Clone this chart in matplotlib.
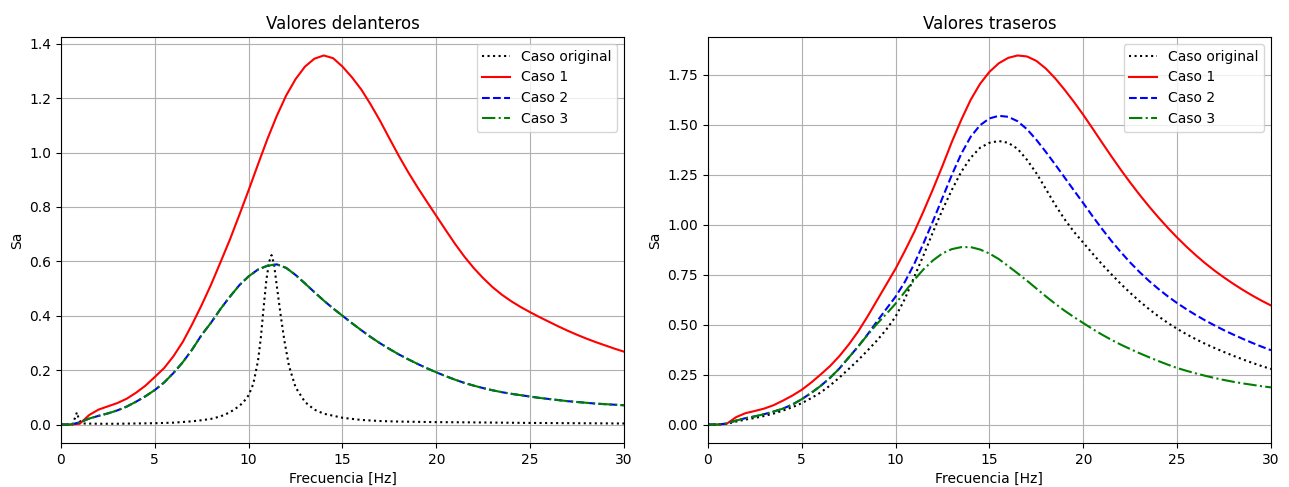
import matplotlib
matplotlib.use("Agg")
import matplotlib.pyplot as plt

# frecuencias comunes (Hz)
freq = [0, 0.5, 1, 1.5, 2, 2.5, 3, 3.5, 4, 4.5,
        5, 5.5, 6, 6.5, 7, 7.5, 8, 8.5, 9, 9.5,
        10, 10.5, 11, 11.5, 12, 12.5, 13, 13.5, 14, 14.5,
        15, 15.5, 16, 16.5, 17, 17.5, 18, 18.5, 19, 19.5,
        20, 20.5, 21, 21.5, 22, 22.5, 23, 23.5, 24, 24.5,
        25, 25.5, 26, 26.5, 27, 27.5, 28, 28.5, 29, 29.5,
        30]

# ---- valores delanteros ----
freq_orig_del = [0, 0.6, 0.75, 0.85, 0.95, 1.1, 2, 3, 4, 5, 6, 7, 7.5, 8, 8.5, 9,
                 9.5, 9.75, 10, 10.25, 10.5, 10.65, 10.8, 10.95, 11.1, 11.22,
                 11.35, 11.5, 11.7, 11.9, 12.15, 12.5, 13, 13.5, 14, 15, 16, 17,
                 18, 20, 22, 25, 30]
orig_del = [0, 0, 0.025, 0.045, 0.02, 0.004, 0.003, 0.003, 0.004, 0.005, 0.007,
            0.012, 0.016, 0.021, 0.03, 0.045, 0.068, 0.085, 0.108, 0.15, 0.235,
            0.32, 0.432, 0.535, 0.6, 0.623, 0.59, 0.51, 0.405, 0.31, 0.215,
            0.137, 0.083, 0.055, 0.04, 0.025, 0.017, 0.013, 0.011, 0.009,
            0.008, 0.006, 0.004]

caso1_del = [0, 0, 0.003, 0.035, 0.055, 0.067, 0.079, 0.095, 0.117, 0.143,
             0.175, 0.208, 0.252, 0.305, 0.37, 0.44, 0.515, 0.597, 0.68, 0.77,
             0.862, 0.957, 1.05, 1.135, 1.21, 1.27, 1.316, 1.345, 1.357, 1.347,
             1.316, 1.277, 1.232, 1.177, 1.117, 1.052, 0.988, 0.928, 0.872, 0.819,
             0.767, 0.715, 0.664, 0.617, 0.575, 0.538, 0.505, 0.477, 0.453, 0.432,
             0.413, 0.395, 0.378, 0.361, 0.345, 0.33, 0.316, 0.303, 0.291, 0.279,
             0.268]

caso2_del = [0, 0, 0.008, 0.022, 0.032, 0.041, 0.052, 0.066, 0.084, 0.104,
             0.127, 0.155, 0.19, 0.23, 0.277, 0.33, 0.375, 0.425, 0.47, 0.512,
             0.545, 0.57, 0.584, 0.589, 0.576, 0.55, 0.519, 0.487, 0.456, 0.427,
             0.4, 0.373, 0.347, 0.322, 0.299, 0.278, 0.258, 0.24, 0.223, 0.207,
             0.192, 0.178, 0.165, 0.153, 0.143, 0.134, 0.126, 0.119, 0.113, 0.108,
             0.103, 0.098, 0.094, 0.09, 0.086, 0.083, 0.08, 0.077, 0.075, 0.073,
             0.071]

caso3_del = [0, 0, 0.008, 0.022, 0.032, 0.041, 0.052, 0.066, 0.084, 0.104,
             0.127, 0.155, 0.19, 0.23, 0.277, 0.33, 0.375, 0.425, 0.47, 0.512,
             0.545, 0.57, 0.584, 0.589, 0.576, 0.55, 0.519, 0.487, 0.456, 0.427,
             0.4, 0.373, 0.347, 0.322, 0.299, 0.278, 0.258, 0.24, 0.223, 0.207,
             0.192, 0.178, 0.165, 0.153, 0.143, 0.134, 0.126, 0.119, 0.113, 0.108,
             0.103, 0.098, 0.094, 0.09, 0.086, 0.083, 0.08, 0.077, 0.075, 0.073,
             0.071]

# ---- valores traseros ----
orig_tra = [0, 0, 0.003, 0.015, 0.025, 0.033, 0.043, 0.055, 0.07, 0.087,
            0.107, 0.132, 0.16, 0.195, 0.235, 0.278, 0.322, 0.37, 0.42, 0.475,
            0.54, 0.63, 0.74, 0.85, 0.965, 1.075, 1.175, 1.265, 1.335, 1.385,
            1.41, 1.419, 1.41, 1.38, 1.325, 1.258, 1.18, 1.1, 1.028, 0.965,
            0.91, 0.855, 0.802, 0.752, 0.704, 0.659, 0.617, 0.578, 0.542, 0.509,
            0.479, 0.452, 0.427, 0.404, 0.383, 0.363, 0.344, 0.326, 0.309, 0.293,
            0.278]

caso1_tra = [0, 0, 0.004, 0.037, 0.057, 0.068, 0.08, 0.097, 0.12, 0.145,
             0.174, 0.21, 0.25, 0.292, 0.342, 0.4, 0.465, 0.54, 0.62, 0.7,
             0.78, 0.87, 0.965, 1.07, 1.18, 1.295, 1.415, 1.525, 1.625, 1.705,
             1.765, 1.808, 1.835, 1.847, 1.842, 1.82, 1.782, 1.733, 1.676, 1.615,
             1.55, 1.481, 1.411, 1.342, 1.275, 1.211, 1.15, 1.092, 1.037, 0.985,
             0.936, 0.89, 0.847, 0.807, 0.77, 0.736, 0.704, 0.674, 0.646, 0.62,
             0.596]

caso2_tra = [0, 0, 0.005, 0.02, 0.032, 0.041, 0.052, 0.065, 0.08, 0.1,
             0.127, 0.158, 0.193, 0.233, 0.28, 0.335, 0.39, 0.45, 0.515, 0.578,
             0.64, 0.715, 0.805, 0.91, 1.02, 1.135, 1.25, 1.355, 1.44, 1.498,
             1.532, 1.545, 1.54, 1.518, 1.478, 1.425, 1.365, 1.302, 1.237, 1.172,
             1.108, 1.042, 0.979, 0.919, 0.863, 0.811, 0.763, 0.719, 0.679, 0.642,
             0.608, 0.577, 0.548, 0.521, 0.496, 0.472, 0.45, 0.429, 0.409, 0.39,
             0.372]

caso3_tra = [0, 0, 0.005, 0.02, 0.032, 0.041, 0.052, 0.065, 0.08, 0.1,
             0.127, 0.158, 0.193, 0.233, 0.28, 0.335, 0.39, 0.448, 0.503, 0.553,
             0.605, 0.665, 0.725, 0.778, 0.822, 0.857, 0.878, 0.888, 0.888, 0.876,
             0.856, 0.828, 0.793, 0.757, 0.72, 0.681, 0.642, 0.605, 0.57, 0.538,
             0.508, 0.478, 0.45, 0.424, 0.4, 0.378, 0.357, 0.337, 0.318, 0.3,
             0.283, 0.269, 0.256, 0.244, 0.233, 0.223, 0.214, 0.206, 0.199, 0.192,
             0.186]

labels = ["Caso original", "Caso 1", "Caso 2", "Caso 3"]

fig, (ax1, ax2) = plt.subplots(1, 2, figsize=(12.89, 4.87), dpi=100)
fig.subplots_adjust(left=0.0473, right=0.986, bottom=0.0903, top=0.924, wspace=0.149)

# delanteros
ax1.plot(freq_orig_del, orig_del, "k:", label=labels[0])
ax1.plot(freq, caso1_del, "r-", label=labels[1])
ax1.plot(freq, caso2_del, "b--", label=labels[2])
ax1.plot(freq, caso3_del, "g-.", label=labels[3])
ax1.set_title("Valores delanteros")
ax1.set_xlabel("Frecuencia [Hz]")
ax1.set_ylabel("Sa")
ax1.set_xlim(0, 30)
ax1.grid(True)
ax1.legend(loc="upper right")

# traseros
ax2.plot(freq, orig_tra, "k:", label=labels[0])
ax2.plot(freq, caso1_tra, "r-", label=labels[1])
ax2.plot(freq, caso2_tra, "b--", label=labels[2])
ax2.plot(freq, caso3_tra, "g-.", label=labels[3])
ax2.set_title("Valores traseros")
ax2.set_xlabel("Frecuencia [Hz]")
ax2.set_ylabel("Sa")
ax2.set_xlim(0, 30)
ax2.grid(True)
ax2.legend(loc="upper right")

plt.savefig("out.png", dpi=100)
